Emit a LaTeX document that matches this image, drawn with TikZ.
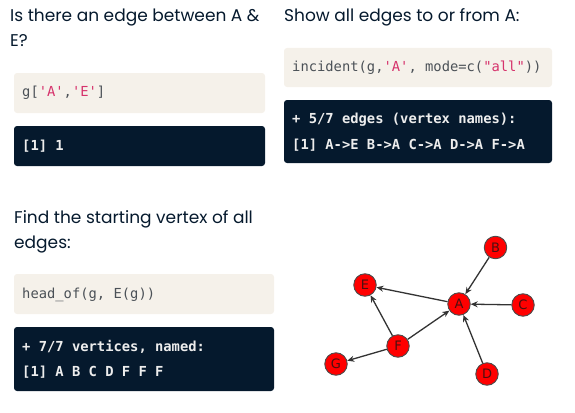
\documentclass[tikz,border=0pt]{standalone}
\usepackage{fontspec}
\setmainfont{Poppins}
\newfontfamily\codefont{DejaVu Sans Mono}
\newfontfamily\labelfont{DejaVu Sans}
\usetikzlibrary{arrows.meta}
\definecolor{navy}{HTML}{05192D}
\definecolor{beige}{HTML}{F5F1EA}
\definecolor{codegray}{HTML}{4B5157}
\definecolor{strpink}{HTML}{D6336C}
\definecolor{outtext}{HTML}{EDEDED}
\definecolor{nodered}{HTML}{FF0000}
\definecolor{edgegray}{HTML}{333333}
\definecolor{labeldark}{HTML}{4A1010}
\newcommand{\str}[1]{\textcolor{strpink}{#1}}
\begin{document}
\begin{tikzpicture}[x=1pt,y=-1pt,
  heading/.style={anchor=base west,inner sep=0pt,text=navy,font=\fontsize{17}{20}\selectfont},
  codebox/.style={fill=beige,rounded corners=3pt,draw=none},
  outbox/.style={fill=navy,rounded corners=3pt,draw=none},
  codetext/.style={anchor=west,inner sep=0pt,text=codegray,font=\codefont\fontsize{13.8}{16}\selectfont},
  outtxt/.style={anchor=west,inner sep=0pt,text=outtext,font=\codefont\bfseries\fontsize{13.8}{16}\selectfont},
  vert/.style={circle,fill=nodered,draw=black!70,line width=0.9pt,minimum size=22.5pt,inner sep=0pt,text=labeldark,font=\labelfont\fontsize{13}{14}\selectfont},
  edge/.style={draw=edgegray,line width=1.3pt,-{Stealth[length=7pt,width=6pt]}}
]
\useasboundingbox (0,0) rectangle (575,412);
% --- top left
\node[heading] (h1a) at (10,22) {Is there an edge between A \&};
\node[heading] (h1b) at (10,47) {E?};
\fill[codebox] (14,73) rectangle (265,113);
\node[codetext] (c1) at (22,93) {g[\str{'A'},\str{'E'}]};
\fill[outbox] (14,126) rectangle (265,166);
\node[outtxt] (o1) at (22,146) {[1] 1};
% --- top right
\node[heading] (h2) at (284,22) {Show all edges to or from A:};
\fill[codebox] (284,48) rectangle (552,87);
\node[codetext] (c2) at (292,67.5) {incident(g,\str{'A'}, mode=c(\str{"all"}))};
\fill[outbox] (284,100) rectangle (552,163);
\node[outtxt] (o2a) at (292,120) {+ 5/7 edges (vertex names):};
\node[outtxt] (o2b) at (292,145) {[1] A->E B->A C->A D->A F->A};
% --- bottom left
\node[heading] (h3a) at (14,223) {Find the starting vertex of all};
\node[heading] (h3b) at (14,248) {edges:};
\fill[codebox] (14,274) rectangle (274,314);
\node[codetext] (c3) at (22,295) {head\_of(g, E(g))};
\fill[outbox] (14,327) rectangle (274,391);
\node[outtxt] (o3a) at (22,347) {+ 7/7 vertices, named:};
\node[outtxt] (o3b) at (22,372) {[1] A B C D F F F};
% --- graph
\node[vert] (A) at (459,304) {A};
\node[vert] (B) at (495.5,247.5) {B};
\node[vert] (C) at (523,305) {C};
\node[vert] (D) at (487,374) {D};
\node[vert] (E) at (365,285) {E};
\node[vert] (F) at (398,346) {F};
\node[vert] (G) at (336,364) {G};
\draw[edge] (A) -- (E);
\draw[edge] (B) -- (A);
\draw[edge] (C) -- (A);
\draw[edge] (D) -- (A);
\draw[edge] (F) -- (A);
\draw[edge] (F) -- (E);
\draw[edge] (F) -- (G);
\end{tikzpicture}
\end{document}
